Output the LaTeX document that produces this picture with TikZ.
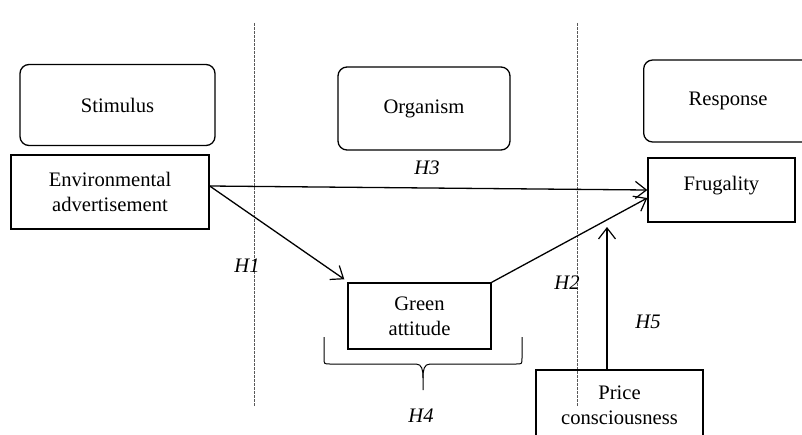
\documentclass[tikz,border=0pt]{standalone}
\usepackage{fontspec}
\setmainfont{Liberation Serif}
\usepackage{tikz}
\usetikzlibrary{arrows.meta}
\usetikzlibrary{calc}

\newcommand{\sorfont}{\fontsize{20.6}{25}\selectfont}

\begin{document}
\begin{tikzpicture}[x=1pt,y=-1pt]
\tikzstyle{stage} = [draw, line width=1.3pt, rounded corners=9pt, inner sep=0pt, font=\sorfont]
\tikzstyle{var}   = [draw, line width=1.4pt, inner sep=0pt, align=center, font=\sorfont]
\tikzstyle{hyp}   = [font=\sorfont\itshape]
\tikzstyle{link}  = [line width=1.3pt, -{Straight Barb[length=11pt,width=17pt,line width=1.2pt]}]
\tikzstyle{split} = [line width=0.8pt, color=black!65, dash pattern=on 2.5pt off 1.5pt]

\useasboundingbox (0,0) rectangle (802,434);

% stages of the S-O-R model
\draw(117.5,105) node[stage, minimum width=195, minimum height=81] (stimulus) {Stimulus};
\draw(424,108.5) node[stage, minimum width=172, minimum height=83] (organism) {Organism};
\draw(643,101)   node[stage, anchor=west, minimum height=82, text width=125, inner xsep=45pt, align=left] (response) {Response};

% separators
\coordinate (s1top) at (254,23);
\coordinate (s1bot) at (254,407);
\coordinate (s2top) at (577,23);
\coordinate (s2bot) at (577,407);
\draw[split] (s1top) -- (s1bot);
\draw[split] (s2top) -- (s2bot);

% constructs
\draw(110,192)   node[var, minimum width=198, minimum height=74] (envadv) {Environmental\\advertisement};
\draw(419.5,316) node[var, minimum width=143, minimum height=66] (green) {Green\\attitude};
\draw(721.5,190) node[var, minimum width=147, minimum height=64, text depth=13pt] (frugal) {Frugality};
\draw(619.5,405) node[var, minimum width=167, minimum height=70] (price) {Price\\consciousness};

% paths
\coordinate (h5end) at (607,227);
\draw[link] ([yshift=6pt]envadv.east) -- (frugal.west);
\draw[link] ([yshift=6pt]envadv.east) -- ([shift={(-3,-3)}]green.north west);
\draw[link] (green.north east) -- ([yshift=-8pt]frugal.west);
\draw[link] ([xshift=-12.5pt]price.north) -- (h5end);

% moderation brace
\draw[line width=1pt] (324,337) -- (324,358) .. controls (324,364) .. (330,364) -- (416,364)
  .. controls (422,364) and (423,370) .. (423,378) -- (423,390);
\draw[line width=1pt] (423,378) .. controls (423,370) and (424,364) .. (430,364) -- (516,364)
  .. controls (522,364) .. (522,358) -- (522,337);

% labels
\draw(427,168) node[hyp] (h3) {H3};
\draw(247,266) node[hyp] (h1) {H1};
\draw(567,283) node[hyp] (h2) {H2};
\draw(648,322) node[hyp] (h5) {H5};
\draw(421,416) node[hyp] (h4) {H4};

\end{tikzpicture}
\end{document}
